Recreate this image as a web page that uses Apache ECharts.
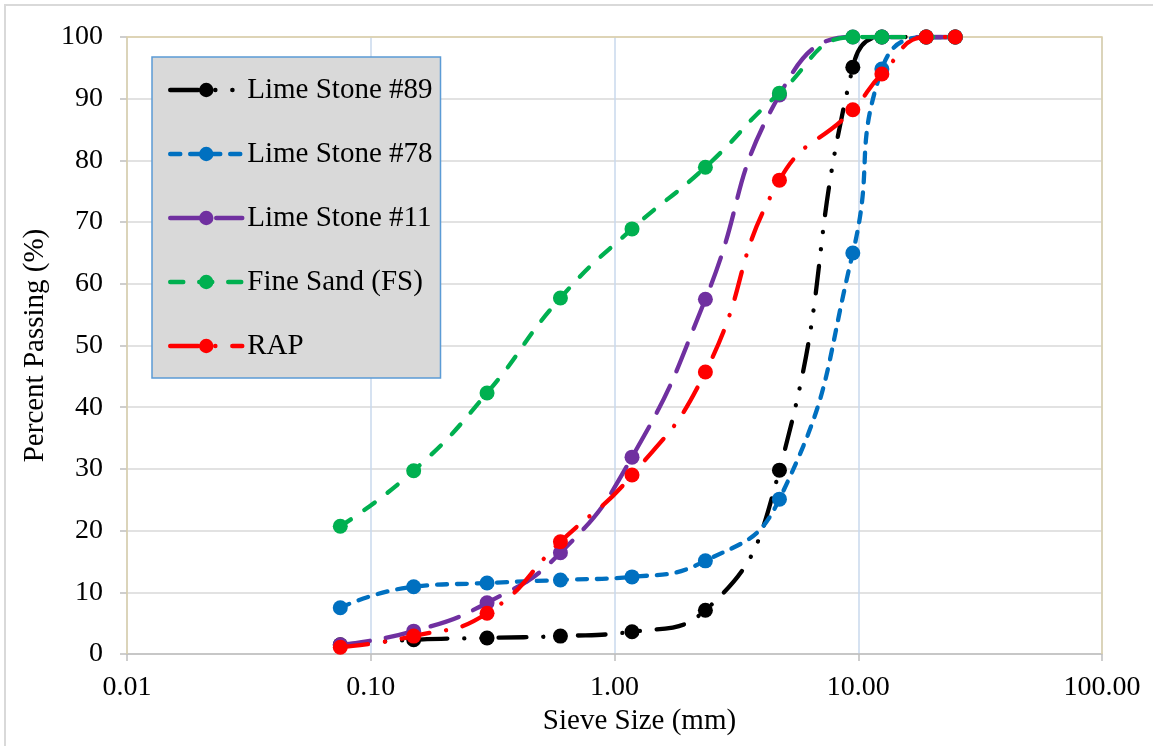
<!DOCTYPE html>
<html>
<head>
<meta charset="utf-8">
<script src="https://cdn.jsdelivr.net/npm/echarts@6/dist/echarts.min.js"></script>
<style>
html,body{margin:0;padding:0;background:#fff;}
#c{width:1153px;height:746px;}
</style>
</head>
<body>
<div id="c"></div>
<script>
// Sieve sizes (mm)
const sieves = [0.075, 0.15, 0.3, 0.6, 1.18, 2.36, 4.75, 9.5, 12.5, 19, 25];
// Percent passing per material
const ls89 = [1.5, 2.3, 2.6, 2.9, 3.6, 7.1, 29.8, 95.1, 100, 100, 100];
const ls78 = [7.5, 10.9, 11.5, 12.0, 12.5, 15.1, 25.1, 65.0, 94.8, 100, 100];
const ls11 = [1.5, 3.7, 8.3, 16.4, 31.9, 57.5, 90.6, 100, 100, 100, 100];
const fineSand = [20.7, 29.7, 42.3, 57.7, 68.9, 78.9, 90.9, 100, 100, 100, 100];
const rap = [1.1, 2.9, 6.6, 18.2, 29.0, 45.7, 76.8, 88.2, 94.0, 100, 100];
const seriesNames = ['Lime Stone #89', 'Lime Stone #78', 'Lime Stone #11', 'Fine Sand (FS)', 'RAP'];
const yTicks = [0, 10, 20, 30, 40, 50, 60, 70, 80, 90, 100];

const FONT = 'Liberation Serif, Times New Roman, serif';
const colors = ['#000000', '#0070C0', '#7030A0', '#00B050', '#FF0000'];
const dashes = [
  [28, 17, 0.1, 17, 0.1, 17],
  [10, 10],
  [30, 16],
  [13, 16],
  [28, 17, 0.1, 17]
];
const allData = [ls89, ls78, ls11, fineSand, rap];

const chart = echarts.init(document.getElementById('c'), null, {renderer: 'canvas'});

const series = allData.map((vals, i) => ({
  name: seriesNames[i],
  type: 'line',
  data: sieves.map((s, j) => [s, vals[j]]),
  smooth: 0.5,
  symbol: 'circle',
  symbolSize: 15,
  showSymbol: true,
  itemStyle: {color: colors[i]},
  lineStyle: {color: colors[i], width: 4.3, type: dashes[i], cap: 'round'},
  z: 2 + i,
  emphasis: {disabled: true}
}));

const option = {
  animation: false,
  backgroundColor: '#ffffff',
  grid: {left: 127, right: 51, top: 37, bottom: 92, show: false},
  legend: {
    orient: 'vertical',
    left: 152,
    top: 57,
    data: seriesNames,
    backgroundColor: '#D9D9D9',
    borderColor: '#5B9BD5',
    borderWidth: 1.5,
    borderRadius: 0,
    padding: [18, 8, 17, 16],
    itemGap: 34,
    itemWidth: 72,
    itemHeight: 18,
    selectedMode: false,
    lineStyle: {width: 4.5},
    textStyle: {fontFamily: FONT, fontSize: 29, color: '#000', lineHeight: 30}
  },
  xAxis: {
    type: 'log',
    logBase: 10,
    min: 0.01,
    max: 100,
    name: 'Sieve Size (mm)',
    nameLocation: 'middle',
    nameGap: 52,
    nameTextStyle: {fontFamily: FONT, fontSize: 29, color: '#000', padding: [0, 0, 0, 50]},
    axisLine: {show: true, onZero: false, lineStyle: {color: '#BFBFBF', width: 1.5}},
    axisTick: {show: true, inside: false, length: 7, lineStyle: {color: '#BFBFBF', width: 1.5}},
    minorTick: {show: false},
    axisLabel: {
      fontFamily: FONT, fontSize: 28, color: '#000', margin: 20,
      formatter: v => Number(v).toFixed(2)
    },
    splitLine: {show: true, lineStyle: {color: '#C9D9EC', width: 1.5}}
  },
  yAxis: {
    type: 'value',
    min: yTicks[0],
    max: yTicks[yTicks.length - 1],
    interval: 10,
    name: 'Percent Passing (%)',
    nameLocation: 'middle',
    nameGap: 71,
    nameTextStyle: {fontFamily: FONT, fontSize: 29, color: '#000'},
    axisLine: {show: false},
    axisTick: {show: true, inside: false, length: 7, lineStyle: {color: '#BFBFBF', width: 1.5}},
    axisLabel: {fontFamily: FONT, fontSize: 28, color: '#000', margin: 24},
    splitLine: {show: true, lineStyle: {color: '#D9D9D9', width: 1.5}}
  },
  graphic: [
    {
      type: 'rect', z: -1, silent: true,
      shape: {x: 5, y: 5, width: 1170, height: 770},
      style: {fill: 'none', stroke: '#D9D9D9', lineWidth: 2}
    },
    {
      type: 'polyline', z: 1, silent: true,
      shape: {points: [[127, 654], [127, 37], [1102, 37], [1102, 654]]},
      style: {fill: 'none', stroke: '#DDD0A8', lineWidth: 1.5}
    }
  ],
  series: series
};
chart.setOption(option);
</script>
</body>
</html>
